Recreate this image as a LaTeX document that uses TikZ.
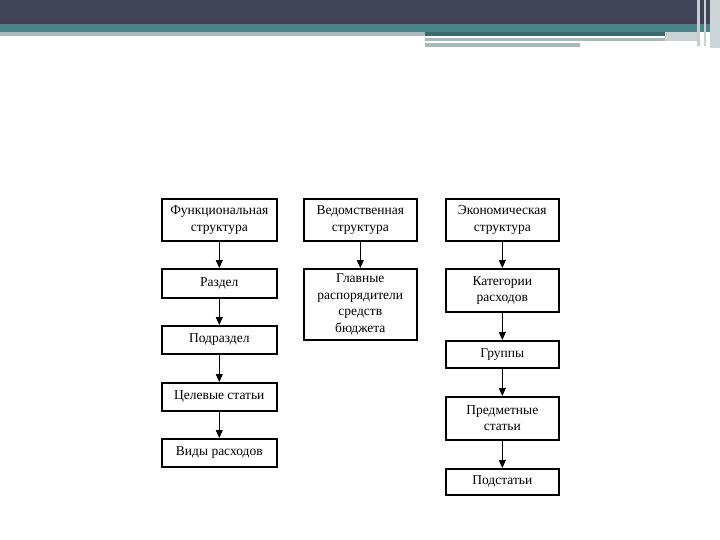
\documentclass[tikz,border=0pt]{standalone}
\usepackage{fontspec}
\setmainfont{Liberation Serif}
\usetikzlibrary{arrows.meta}
\definecolor{hdrdark}{HTML}{3F4456}
\definecolor{hdrpurp}{HTML}{463F58}
\definecolor{hdrteal}{HTML}{4A8489}
\definecolor{hdrgray}{HTML}{A9B9BE}
\definecolor{hdrlight}{HTML}{C9D3D6}
\tikzset{
  box/.style={draw=black, line width=1.6pt, fill=white, inner sep=0pt, align=center,
    font=\fontsize{13.5}{16.5}\selectfont, anchor=north west},
  conn/.style={draw=black, line width=0.9pt, -{Triangle[length=8pt,width=7pt]}}
}
\begin{document}
\begin{tikzpicture}[x=1pt,y=-1pt]
\useasboundingbox (0,0) rectangle (720,540);
% header
\fill[white] (0,0) rectangle (720,540);
\fill[hdrdark] (0,0) rectangle (720,18);
\fill[hdrpurp] (0,18) rectangle (720,24);
\fill[hdrteal] (0,24) rectangle (720,32);
\fill[hdrgray] (0,32) rectangle (425,36);
\fill[hdrteal!80!black] (425,32) rectangle (700,36);
\fill[hdrgray] (425,38) rectangle (665,41.5);
\fill[hdrgray] (425,43.5) rectangle (580,47);
\fill[hdrlight] (665,32) rectangle (700,41.5);
\fill[hdrgray!70] (697,0) rectangle (700,46);
\fill[hdrlight] (704,0) rectangle (706,46);
\fill[hdrgray!60] (710,0) rectangle (720,48);
% column 1
\node[box, minimum width=115pt, minimum height=42pt] (f1) at (161,198) {Функциональная\\структура};
\node[box, minimum width=115pt, minimum height=29pt] (f2) at (161,268) {Раздел};
\node[box, minimum width=115pt, minimum height=28pt] (f3) at (161,325) {Подраздел};
\node[box, minimum width=115pt, minimum height=28pt] (f4) at (161,382) {Целевые статьи};
\node[box, minimum width=115pt, minimum height=28pt] (f5) at (161,438) {Виды расходов};
% column 2
\node[box, minimum width=113pt, minimum height=71pt] (v2) at (303,268) {Главные\\распорядители\\средств\\бюджета};
\node[box, minimum width=113pt, minimum height=42pt] (v1) at (303,198) {Ведомственная\\структура};
% column 3
\node[box, minimum width=113pt, minimum height=42pt] (e1) at (445,198) {Экономическая\\структура};
\node[box, minimum width=113pt, minimum height=43pt] (e2) at (445,268) {Категории\\расходов};
\node[box, minimum width=113pt, minimum height=27pt] (e3) at (445,340) {Группы};
\node[box, minimum width=113pt, minimum height=43pt] (e4) at (445,396) {Предметные\\статьи};
\node[box, minimum width=113pt, minimum height=26pt] (e5) at (445,468) {Подстатьи};
% connectors
\draw[conn] (f1.south) -- (f2.north);
\draw[conn] (f2.south) -- (f3.north);
\draw[conn] (f3.south) -- (f4.north);
\draw[conn] (f4.south) -- (f5.north);
\draw[conn] (v1.south) -- (v2.north);
\draw[conn] (e1.south) -- (e2.north);
\draw[conn] (e2.south) -- (e3.north);
\draw[conn] (e3.south) -- (e4.north);
\draw[conn] (e4.south) -- (e5.north);
\end{tikzpicture}
\end{document}
